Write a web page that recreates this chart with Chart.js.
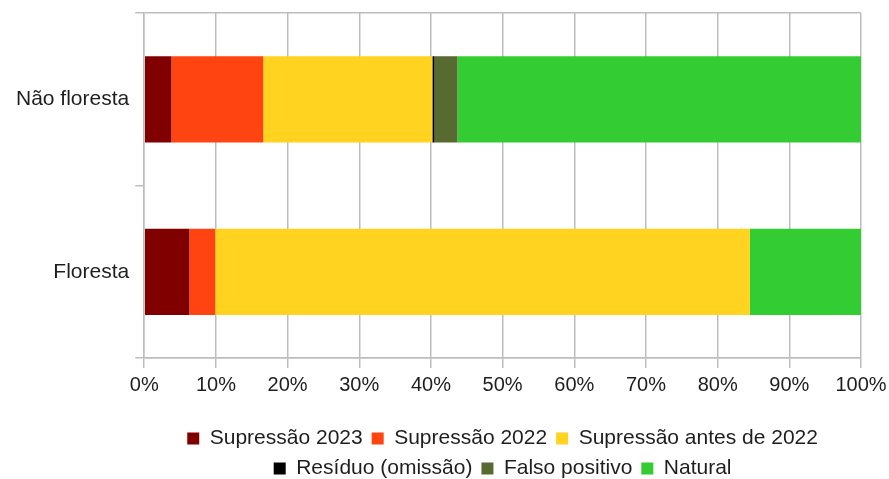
<!DOCTYPE html>
<html>
<head>
<meta charset="utf-8">
<script src="https://cdn.jsdelivr.net/npm/chart.js@4.4.0/dist/chart.umd.min.js"></script>
<style>
  html, body { margin: 0; padding: 0; background: #fff; }
  #wrap { width: 889px; height: 479px; }
</style>
</head>
<body>
<div id="wrap"><canvas id="cover-chart"></canvas></div>
<script>
/* stacked horizontal bars, share of each class (%) */
const classes = ["Não floresta", "Floresta"];

const sup2023 = [3.8, 6.3];
const sup2022 = [12.8, 3.6];
const supAntes = [23.6, 74.6];
const residuo = [0.3, 0];
const falsoPositivo = [3.2, 0];
const natural = [56.3, 15.5];

const xTicks = [0, 10, 20, 30, 40, 50, 60, 70, 80, 90, 100];

const gridGray = '#bdbdbd';

Chart.defaults.font.family = "'Liberation Sans', Arial, sans-serif";
Chart.defaults.font.size = 21;
Chart.defaults.color = '#1e1e1e';

let coverData = {
    labels: classes,
    datasets: [
        { label: 'Supressão 2023', data: sup2023, backgroundColor: '#800000' },
        { label: 'Supressão 2022', data: sup2022, backgroundColor: '#ff4411' },
        { label: 'Supressão antes de 2022', data: supAntes, backgroundColor: '#ffd320' },
        { label: 'Resíduo (omissão)', data: residuo, backgroundColor: '#000000' },
        { label: 'Falso positivo', data: falsoPositivo, backgroundColor: '#576b30' },
        { label: 'Natural', data: natural, backgroundColor: '#33cc33' }
    ]
};

let coverOptions = {
    indexAxis: 'y',
    responsive: true,
    maintainAspectRatio: false,
    animation: false,
    datasets: {
        bar: {
            barPercentage: 0.5,
            categoryPercentage: 1,
            borderWidth: 0
        }
    },
    layout: {
        padding: { left: 10, right: 0, top: 13, bottom: -10 }
    },
    scales: {
        x: {
            stacked: true,
            min: 0,
            max: 100,
            afterBuildTicks: axis => {
                axis.ticks = xTicks.map(v => ({ value: v }));
            },
            // extra room between the tick labels and the legend
            afterFit: scale => {
                scale.height = 61;
                scale.paddingRight = 28;
            },
            ticks: {
                padding: 5,
                font: { size: 20 },
                callback: v => v + '%'
            },
            grid: {
                color: gridGray,
                lineWidth: 1.5,
                tickLength: 10
            },
            border: { color: gridGray, width: 1.5 }
        },
        y: {
            stacked: true,
            afterFit: scale => {
                scale.paddingTop = 0;
                scale.paddingBottom = 0;
            },
            ticks: {
                padding: 6
            },
            grid: {
                offset: true,
                color: ctx => ctx.index === 1 ? 'rgba(0,0,0,0)' : gridGray,
                tickColor: gridGray,
                lineWidth: 1.5,
                tickLength: 9
            },
            border: { color: gridGray, width: 1.5 }
        }
    },
    plugins: {
        legend: {
            position: 'bottom',
            fullSize: false,
            labels: {
                boxWidth: 12,
                boxHeight: 12,
                padding: 9
            }
        },
        tooltip: { enabled: false }
    }
};

let coverChart = new Chart(document.getElementById("cover-chart"), {
    type: 'bar',
    data: coverData,
    options: coverOptions
});
</script>
</body>
</html>
